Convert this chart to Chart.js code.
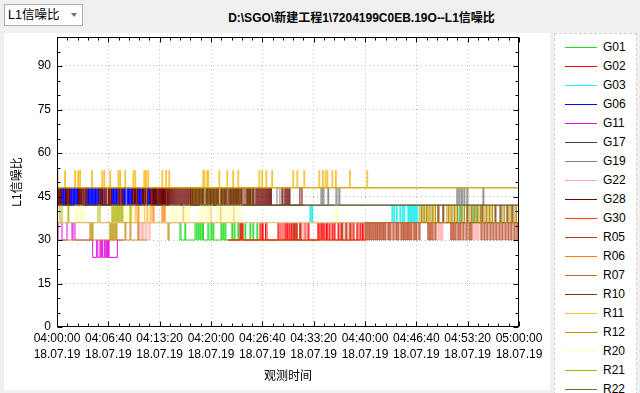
<!DOCTYPE html>
<html><head><meta charset="utf-8">
<script src="https://cdn.jsdelivr.net/npm/chart.js@4.4.1/dist/chart.umd.min.js"></script>
<style>
html,body{margin:0;padding:0;}
body{width:640px;height:393px;background:#f0f0f0;position:relative;overflow:hidden;font-family:"Liberation Sans","Noto Sans CJK SC",sans-serif;}
#combo{position:absolute;left:4px;top:4px;width:74px;height:20px;border:1px solid #adadad;background:#fff;font-size:12.5px;line-height:20px;padding-left:3px;box-sizing:content-box;}
#combo .arr{position:absolute;right:5px;top:8px;width:0;height:0;border-left:3px solid transparent;border-right:3px solid transparent;border-top:4px solid #707070;}
#title{position:absolute;left:150px;width:423px;top:8px;text-align:center;font-weight:bold;font-size:12px;color:#000;}
#plotbox{position:absolute;left:4px;top:33px;width:546px;height:357px;background:#fff;}
#legend{position:absolute;left:554px;top:33px;width:81px;height:380px;background:#fff;border:1px dashed #d0d0d0;overflow:hidden;}
.li{position:absolute;left:0;height:19px;width:81px;font-size:12px;}
.li .ln{position:absolute;left:10px;top:9px;width:32px;height:1px;}
.li .tx{position:absolute;left:48px;top:2px;line-height:14px;color:#000;}
</style></head>
<body>
<div id="combo">L1信噪比<span class="arr"></span></div>
<div id="title">D:\SGO\新建工程1\7204199C0EB.19O--L1信噪比</div>
<div id="plotbox"><canvas id="c" width="546" height="357"></canvas></div>
<div id="legend"></div>
<script>
// ---- data (seconds after 04:00:00, SNR value) ----
const START_SEC = 4*3600;
const DATE_LABEL = '18.07.19';
const X_TICK_STEP = 400;
const Y_TICK_STEP = 15;

const G01 = [[950,30],[958,36],[966,30],[997,36],[1003,30],[1075,36],[1085,30],[1091,36],[1100,30],[1106,36],[1114,30],[1120,36],[1130,30],[1136,36],[1142,30],[1176,36],[1184,30],[1200,36],[1206,30],[1215,36],[1222,30],[1278,36],[1284,30],[1293,36],[1300,30],[1309,36],[1316,30],[1363,36],[1369,30],[1380,36],[1387,30],[1410,36],[1416,30],[1441,36],[1447,30],[1465,36],[1471,30],[1504,36],[1510,30],[1527,36],[1533,30],[1558,36],[1564,30],[2050,30]];
const G02 = [[1332,30],[1426,36],[1432,30],[1441,36],[1449,30],[1582,36],[1590,30],[1600,36],[1606,30],[1625,36],[1636,30],[1722,36],[1730,30],[1745,36],[1761,30],[1776,36],[1784,30],[1792,36],[1798,30],[1808,36],[1815,30],[1825,36],[1831,30],[1846,36],[1852,30],[1862,36],[1870,30],[1893,36],[1900,30],[1932,36],[1940,30],[1956,36],[1963,30],[2033,36],[2040,30],[2049,36],[2058,30],[2065,36],[2072,30],[2080,36],[2088,30],[2100,36],[2106,30],[2120,36],[2127,30],[2143,36],[2150,30],[2160,36],[2166,30],[2190,36],[2197,30],[2213,36],[2220,30],[2283,36],[2290,30],[2306,36],[2314,30],[2337,36],[2345,30],[2361,36],[2368,30],[2380,36],[2386,30],[2400,30]];
const G03 = [[1960,36],[1971,42],[1977,36],[1985,42],[1991,36],[2600,36],[2610,42],[2616,36],[2625,42],[2631,36],[2645,42],[2650,36],[2672,42],[2678,36],[2690,42],[2696,36],[2703,42],[2710,36],[2734,42],[2740,36],[2745,42],[2750,36],[2756,42],[2762,36],[2768,42],[2774,36],[2780,42],[2786,36],[2792,42],[2798,36],[2804,42],[2812,36],[3120,36],[3124,42],[3132,36],[3145,42],[3155,36],[3241,42],[3248,36],[3265,42],[3272,36],[3280,36]];
const G06 = [[0,42],[39,48],[45,42],[50,48],[56,42],[62,48],[66,42],[101,48],[107,42],[112,48],[118,42],[124,48],[130,42],[136,48],[142,42],[148,48],[154,42],[160,48],[166,42],[234,48],[240,42],[246,48],[252,42],[258,48],[264,42],[270,48],[276,42],[282,48],[288,42],[294,48],[300,42],[306,48],[312,42],[318,48],[324,42],[351,48],[357,42],[428,48],[434,42],[440,48],[446,42],[452,48],[458,42],[464,48],[470,42],[514,48],[520,42],[526,48],[532,42],[545,48],[551,42],[557,48],[563,42],[569,48],[575,42],[581,48],[587,42],[631,48],[637,42],[643,48],[649,42],[655,48],[661,42],[709,48],[715,42],[721,48],[727,42],[763,48],[769,42],[800,42]];
const G11 = [[0,30],[8,36],[39,30],[78,36],[117,30],[125,36],[140,30],[278,24],[309,30],[318,24],[335,30],[342,24],[348,30],[356,24],[369,30],[376,24],[387,30],[393,24],[400,30],[406,24],[470,30],[520,30]];
const G17 = [[0,42],[3600,42]];
const G19 = [[1700,42],[1714,48],[1737,42],[2057,48],[2065,42],[2072,48],[2080,42],[2111,48],[2117,42],[2174,48],[2182,42],[2197,48],[2204,42],[3116,48],[3124,42],[3132,48],[3140,42],[3150,48],[3158,42],[3171,48],[3178,42],[3194,48],[3202,42],[3319,48],[3326,42],[3340,42]];
const G22 = [[600,36],[631,30],[640,36],[655,30],[662,36],[670,30],[678,36],[693,30],[700,36],[717,30],[725,36],[1916,30],[1924,36],[1940,30],[1946,36],[2244,30],[2251,36],[2267,30],[2275,36],[2290,30],[2298,36],[2968,30],[2976,36],[2984,30],[2991,36],[2999,30],[3006,36],[3249,30],[3256,36],[3265,30],[3272,36],[3280,30],[3288,36],[3300,36]];
const G28 = [[0,42],[4,48],[10,42],[16,48],[22,42],[28,48],[34,42],[68,48],[74,42],[80,48],[86,42],[92,48],[98,42],[168,48],[176,42],[182,48],[190,42],[196,48],[204,42],[210,48],[218,42],[224,48],[232,42],[330,48],[338,42],[345,48],[352,42],[365,48],[372,42],[380,48],[388,42],[400,48],[408,42],[415,48],[424,42],[478,48],[486,42],[492,48],[500,42],[506,48],[512,42],[590,48],[598,42],[604,48],[612,42],[618,48],[628,42],[666,48],[674,42],[680,48],[688,42],[694,48],[704,42],[730,48],[738,42],[745,48],[752,42],[760,48],[766,42],[775,48],[782,42],[790,48],[798,42],[806,48],[814,42],[822,48],[830,42],[838,48],[846,42],[855,48],[862,42],[870,48],[878,42],[886,48],[894,42],[902,48],[910,42],[918,48],[926,42],[934,48],[942,42],[950,48],[958,42],[966,48],[974,42],[982,48],[990,42],[998,48],[1006,42],[1014,48],[1022,42],[1030,48],[1040,42],[1317,48],[1332,42],[1363,48],[1371,42],[1395,48],[1402,42],[1449,48],[1465,42],[1496,48],[1504,42],[1519,48],[1527,42],[1550,48],[1558,42],[1566,48],[1574,42],[1582,48],[1590,42],[1598,48],[1606,42],[1614,48],[1622,42],[1630,48],[1638,42],[1646,48],[1654,42],[1662,48],[1670,42],[1753,48],[1761,42],[1776,48],[1784,42],[1792,48],[1800,42],[1808,48],[1815,42],[1893,48],[1909,42],[1920,42]];
const G30 = [[1332,30],[2400,30]];
const R05 = [[1820,36],[1839,30],[1846,36],[1862,30],[1870,36],[1893,30],[1900,36],[2220,30],[2227,36],[2251,30],[2258,36],[2283,30],[2290,36],[2400,30],[2407,36],[2415,30],[2423,36],[2431,30],[2438,36],[2446,30],[2454,36],[2462,30],[2470,36],[2478,30],[2485,36],[2493,30],[2500,36],[2509,30],[2516,36],[2524,30],[2532,36],[2540,30],[2547,36],[2555,30],[2563,36],[2579,30],[2586,36],[2594,30],[2602,36],[2618,30],[2626,36],[2641,30],[2648,36],[2657,30],[2664,36],[2680,30],[2688,36],[2696,30],[2703,36],[2711,30],[2719,36],[2727,30],[2734,36],[2742,30],[2750,36],[2758,30],[2766,36],[2781,30],[2789,36],[2797,30],[2804,36],[2820,30],[2828,36],[2890,30],[2898,36],[2906,30],[2914,36],[2922,30],[2930,36],[2945,30],[2953,36],[3069,30],[3077,36],[3085,30],[3093,36],[3101,30],[3109,36],[3124,30],[3132,36],[3140,30],[3148,36],[3163,30],[3171,36],[3187,30],[3195,36],[3210,30],[3218,36],[3226,30],[3234,36],[3304,30],[3312,36],[3327,30],[3335,36],[3350,30],[3358,36],[3374,30],[3382,36],[3397,30],[3405,36],[3420,30],[3428,36],[3444,30],[3452,36],[3467,30],[3475,36],[3491,30],[3499,36],[3514,30],[3522,36],[3537,30],[3545,36],[3561,30],[3569,36],[3584,30],[3592,36],[3600,36]];
const R06 = [[590,36],[608,42],[615,36],[631,42],[638,36],[686,42],[693,36],[700,42],[707,36],[725,42],[732,36],[748,42],[755,36],[818,42],[826,36],[835,42],[842,36],[982,42],[989,36],[1192,42],[1199,36],[1270,42],[1277,36],[1371,42],[1378,36],[1400,36]];
const R07 = [[2380,36],[3600,36]];
const R10 = [[1036,42],[1044,48],[1050,42],[1056,48],[1062,42],[1068,48],[1074,42],[1080,48],[1086,42],[1092,48],[1098,42],[1104,48],[1110,42],[1116,48],[1122,42],[1128,48],[1134,42],[1140,48],[1146,42],[1160,48],[1166,42],[1172,48],[1178,42],[1184,48],[1190,42],[1196,48],[1202,42],[1208,48],[1214,42],[1220,48],[1226,42],[1232,48],[1238,42],[1244,48],[1250,42],[1256,48],[1262,42],[1276,48],[1282,42],[1288,48],[1294,42],[1300,48],[1306,42],[1312,48],[1318,42],[1340,48],[1346,42],[1352,48],[1358,42],[1376,48],[1382,42],[1388,48],[1394,42],[1408,48],[1414,42],[1420,48],[1426,42],[1432,48],[1438,42],[1478,48],[1484,42],[1490,48],[1496,42],[1502,48],[1508,42],[1530,48],[1536,42],[1543,null],[2950,36],[2968,42],[2976,36],[3007,42],[3014,36],[3194,42],[3202,36],[3311,42],[3319,36],[3413,42],[3420,36],[3452,42],[3460,36],[3506,42],[3514,36],[3545,42],[3553,36],[3600,36]];
const R11 = [[0,48],[2,54],[8,48],[60,54],[66,48],[138,54],[144,48],[162,54],[168,48],[177,54],[183,48],[270,54],[276,48],[350,54],[356,48],[366,54],[372,48],[412,54],[418,48],[475,54],[481,48],[489,54],[495,48],[529,54],[535,48],[592,54],[598,48],[607,54],[613,48],[677,54],[683,48],[690,54],[696,48],[708,54],[714,48],[818,54],[824,48],[848,54],[854,48],[872,54],[878,48],[1137,54],[1143,48],[1146,54],[1152,48],[1168,54],[1174,48],[1176,54],[1182,48],[1262,54],[1268,48],[1324,54],[1330,48],[1370,54],[1376,48],[1410,54],[1416,48],[1574,54],[1580,48],[1596,54],[1602,48],[1628,54],[1634,48],[1674,54],[1680,48],[1838,54],[1844,48],[1870,54],[1876,48],[1924,54],[1930,48],[2041,54],[2047,48],[2068,54],[2074,48],[2090,54],[2096,48],[2104,54],[2110,48],[2143,54],[2149,48],[2170,54],[2176,48],[2279,54],[2285,48],[2415,54],[2421,48],[3600,48]];
const R12 = [[240,36],[257,30],[265,36],[273,30],[280,36],[413,30],[420,36],[428,30],[436,36],[444,30],[452,36],[460,30],[467,36],[865,30],[873,36],[900,36],[910,null],[2812,36],[2828,42],[2840,36],[2851,42],[2860,36],[2867,42],[2880,36],[2890,42],[2900,36],[2914,42],[2925,36],[2937,42],[2950,36],[3038,42],[3050,36],[3062,42],[3072,36],[3085,42],[3097,36],[3109,42],[3120,36],[3140,42],[3150,36],[3163,42],[3175,36],[3218,42],[3230,36],[3241,42],[3252,36],[3265,42],[3277,36],[3288,42],[3300,36],[3335,42],[3346,36],[3358,42],[3370,36],[3382,42],[3394,36],[3475,42],[3486,36],[3530,42],[3542,36],[3569,42],[3580,36],[3600,36]];
const R20 = [[130,36],[140,42],[150,36],[160,42],[170,36],[182,42],[192,36],[198,42],[205,36],[530,42],[540,36],[550,42],[560,36],[575,42],[585,36],[598,42],[608,36],[662,42],[672,36],[690,42],[700,36],[712,42],[725,36],[880,42],[890,36],[898,42],[910,36],[918,42],[930,36],[940,42],[958,36],[982,42],[995,36],[1005,42],[1015,36],[1025,42],[1036,36],[1114,42],[1125,36],[1133,42],[1145,36],[1155,42],[1168,36],[1178,42],[1190,36],[1198,42],[1215,36],[1246,42],[1258,36],[1266,42],[1278,36],[1288,42],[1300,36],[1310,42],[1322,36],[1332,42],[1345,36],[1355,42],[1368,36],[1378,42],[1390,36],[1400,42],[1415,36],[1425,42],[1441,36],[2166,42],[2178,36],[2182,42],[2189,36],[2200,36]];
const R21 = [[0,36],[23,42],[39,36],[86,42],[92,36],[319,42],[335,36],[428,42],[436,36],[444,42],[452,36],[460,42],[468,36],[475,42],[483,36],[491,42],[499,36],[506,42],[514,36],[569,42],[577,36],[600,36]];
const R22 = [[0,42],[3600,42]];
const R23 = [[0,36],[2400,36]];
const R24 = [[0,30],[530,36],[537,30],[569,36],[576,30],[631,36],[638,30],[705,30]];
const R25 = [[0,48],[3600,48]];

const NAMES = ['G01','G02','G03','G06','G11','G17','G19','G22','G28','G30','R05','R06','R07','R10','R11','R12','R20','R21','R22','R23','R24','R25'];
const VALUES = [G01,G02,G03,G06,G11,G17,G19,G22,G28,G30,R05,R06,R07,R10,R11,R12,R20,R21,R22,R23,R24,R25];

// ---- styles ----
const COLORS = {G01:'#21d921',G02:'#ff0000',G03:'#22eeee',G06:'#0000ff',G11:'#e010e0',G17:'#404040',G19:'#808080',G22:'#ffaaaa',G28:'#6e0000',G30:'#ff3c00',R05:'#b8421c',R06:'#ff8000',R07:'#c0692a',R10:'#7a3d00',R11:'#f5c12e',R12:'#b89000',R20:'#ffffc0',R21:'#b0b000',R22:'#707035',R23:'#e9bb80',R24:'#d48a30',R25:'#c8a200'};
const FONT = '"Liberation Sans","Noto Sans CJK SC",sans-serif';

// legend (HTML)
const leg = document.getElementById('legend');
NAMES.forEach((n,i)=>{
  const d=document.createElement('div'); d.className='li'; d.style.top=(4+i*19)+'px';
  d.innerHTML='<div class="ln" style="background:'+COLORS[n]+'"></div><div class="tx">'+n+'</div>';
  leg.appendChild(d);
});

function fmtTime(v){
  const s=START_SEC+v; const h=Math.floor(s/3600), m=Math.floor((s%3600)/60), x=Math.round(s%60);
  const p=n=>String(n).padStart(2,'0'); return p(h)+':'+p(m)+':'+p(x);
}

const datasets = NAMES.map((n,i)=>({
  label:n,
  data: VALUES[i].map(p=>({x:p[0],y:p[1]})),
  borderColor:COLORS[n], backgroundColor:COLORS[n],
  borderWidth:1, pointRadius:0, pointHoverRadius:0, stepped:'before', fill:false,
  spanGaps:false, order:-i
}));

const framePlugin = {
  id:'frame',
  afterDatasetsDraw(chart){
    const {ctx, chartArea:a, scales:{x,y}} = chart;
    ctx.save();
    ctx.strokeStyle='#000'; ctx.lineWidth=1;
    const L=Math.round(a.left)+0.5, R=Math.round(a.right)-0.5, T=Math.round(a.top)+0.5, B=Math.round(a.bottom)-0.5;
    ctx.beginPath();
    ctx.moveTo(L,T); ctx.lineTo(L,B); ctx.lineTo(R,B); ctx.lineTo(R,T); ctx.lineTo(L,T);
    for(let v=0; v<=100; v+=5){
      const py=Math.round(y.getPixelForValue(v))+0.5; const len=(v%Y_TICK_STEP===0)?5:3;
      ctx.moveTo(L,py); ctx.lineTo(L+len,py); ctx.moveTo(R,py); ctx.lineTo(R-len,py);
    }
    for(let v=0; v<=3600; v+=80){
      const px=Math.round(x.getPixelForValue(v))+0.5; const len=(v%X_TICK_STEP===0)?5:3;
      ctx.moveTo(px,B); ctx.lineTo(px,B-len); ctx.moveTo(px,T); ctx.lineTo(px,T+len);
    }
    ctx.stroke();
    ctx.restore();
  }
};

new Chart(document.getElementById('c'), {
  type:'line',
  data:{datasets},
  options:{
    responsive:false, animation:false, devicePixelRatio:1,
    events:[],
    layout:{padding:{left:0,right:31,top:4,bottom:0}},
    plugins:{legend:{display:false}, tooltip:{enabled:false}},
    scales:{
      x:{type:'linear', min:0, max:3600,
        afterFit(s){ s.height=63; s.paddingLeft=0; s.paddingRight=0; },
        ticks:{stepSize:X_TICK_STEP, autoSkip:false, maxRotation:0, minRotation:0, padding:4, color:'#000',
          font:{family:FONT,size:12, lineHeight:1.33},
          callback:v=>[fmtTime(v), DATE_LABEL]},
        grid:{drawTicks:false, lineWidth:1, color:c=>(c.tick && (c.tick.value===0||c.tick.value===3600))?'rgba(0,0,0,0)':'#bdbdbd'},
        border:{display:false, dash:[1,3]},
        title:{display:true, text:'观测时间', color:'#000', font:{family:FONT,size:12}, padding:{top:0,bottom:6}}
      },
      y:{type:'linear', min:0, max:100,
        afterFit(s){ s.width=53; s.paddingTop=0; s.paddingBottom=0; },
        afterBuildTicks(s){ s.ticks = s.ticks.filter(t=>t.value%Y_TICK_STEP===0); },
        ticks:{stepSize:Y_TICK_STEP, padding:6, color:'#000', font:{family:FONT,size:12}},
        grid:{drawTicks:false, lineWidth:1, color:c=>(c.tick && c.tick.value===0)?'rgba(0,0,0,0)':'#bdbdbd'},
        border:{display:false, dash:[1,3]},
        title:{display:true, text:'L1信噪比', color:'#000', font:{family:FONT,size:12}, padding:{top:6,bottom:0}}
      }
    }
  },
  plugins:[framePlugin]
});
</script>
</body></html>
